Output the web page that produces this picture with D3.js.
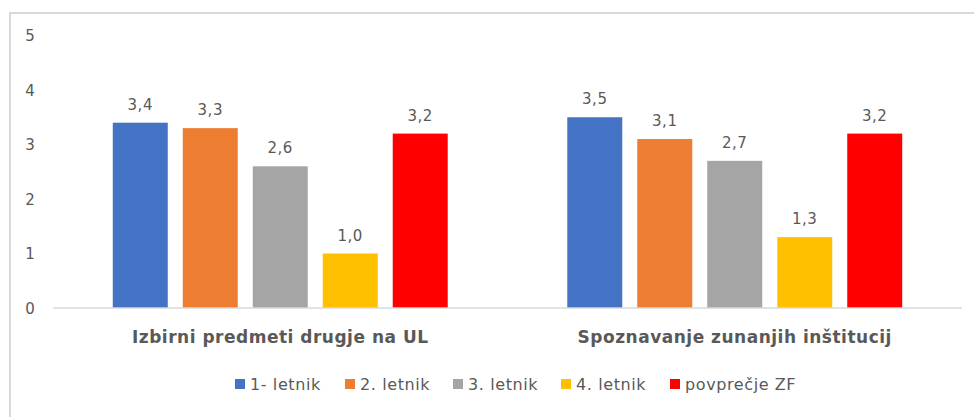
<!DOCTYPE html>
<html>
<head>
<meta charset="utf-8">
<script src="https://cdn.jsdelivr.net/npm/d3@7"></script>
<style>
  html, body { margin: 0; padding: 0; background: #fff; }
  svg { display: block; }
</style>
</head>
<body>
<svg id="chart" width="974" height="417"></svg>
<script>
const categories = ["Izbirni predmeti drugje na UL", "Spoznavanje zunanjih inštitucij"];
const seriesNames = ["1- letnik", "2. letnik", "3. letnik", "4. letnik", "povprečje ZF"];
const seriesColors = ["#4472C4", "#ED7D31", "#A5A5A5", "#FFC000", "#FF0000"];
const values1 = [3.4, 3.5];   // 1- letnik
const values2 = [3.3, 3.1];   // 2. letnik
const values3 = [2.6, 2.7];   // 3. letnik
const values4 = [1.0, 1.3];   // 4. letnik
const values5 = [3.2, 3.2];   // povprečje ZF
const yTicks = [0, 1, 2, 3, 4, 5];

const seriesValues = [values1, values2, values3, values4, values5];

const svg = d3.select("#chart");
const font = "'Century Gothic', 'DejaVu Sans', sans-serif";
const textColor = "#595959";

// outer frame (top + left visible, rest cropped)
svg.append("rect")
  .attr("x", 10).attr("y", 13)
  .attr("width", 1000).attr("height", 500)
  .attr("fill", "none").attr("stroke", "#d9d9d9").attr("stroke-width", 2);

const plotLeft = 53, plotRight = 962;
const y = d3.scaleLinear().domain([0, 5]).range([308, 35.5]);
const x0 = d3.scaleBand().domain(categories).range([plotLeft, plotRight]).padding(0);
const x1 = d3.scaleBand().domain(seriesNames).range([0, x0.bandwidth()])
  .paddingInner(15 / 70).paddingOuter(0.854);

// y axis labels
const yAxis = d3.axisLeft(y).tickValues(yTicks).tickSize(0).tickPadding(0).tickFormat(d3.format("d"));
const yg = svg.append("g").attr("transform", "translate(35,0)").call(yAxis);
yg.select(".domain").remove();
yg.selectAll("text")
  .attr("font-family", font).attr("font-size", 15).attr("fill", textColor)
  .attr("text-anchor", "middle").attr("x", -5).attr("dy", "0.35em");

// bars
const groups = svg.append("g").selectAll("g")
  .data(categories)
  .join("g")
  .attr("transform", d => `translate(${x0(d)},0)`);

groups.selectAll("rect")
  .data((c, ci) => seriesNames.map((s, si) => ({ s, si, v: seriesValues[si][ci] })))
  .join("rect")
  .attr("x", d => x1(d.s))
  .attr("y", d => y(d.v))
  .attr("width", x1.bandwidth())
  .attr("height", d => y(0) - y(d.v))
  .attr("fill", d => seriesColors[d.si]);

const fmt = v => d3.format(".1f")(v).replace(".", ",");
groups.selectAll("text.val")
  .data((c, ci) => seriesNames.map((s, si) => ({ s, si, v: seriesValues[si][ci] })))
  .join("text")
  .attr("class", "val")
  .attr("x", d => x1(d.s) + x1.bandwidth() / 2)
  .attr("y", d => y(d.v) - 13)
  .attr("text-anchor", "middle")
  .attr("font-family", font).attr("font-size", 15).attr("fill", textColor)
  .attr("letter-spacing", 0.5)
  .text(d => fmt(d.v));

// baseline
svg.append("line")
  .attr("x1", plotLeft).attr("x2", plotRight)
  .attr("y1", y(0)).attr("y2", y(0))
  .attr("stroke", "#d9d9d9").attr("stroke-width", 1.5);

// category labels
const xAxis = d3.axisBottom(x0).tickSize(0).tickPadding(0);
const xg = svg.append("g").attr("transform", `translate(0,${y(0)})`).call(xAxis);
xg.select(".domain").remove();
xg.selectAll("text")
  .attr("y", 35)
  .attr("dy", 0)
  .attr("font-family", font).attr("font-size", 17).attr("font-weight", "bold")
  .attr("letter-spacing", 0.5)
  .attr("fill", textColor);

// legend
const legendX = [235, 345, 453, 561, 670];
const legend = svg.append("g").selectAll("g")
  .data(seriesNames)
  .join("g")
  .attr("transform", (d, i) => `translate(${legendX[i]},384)`);
legend.append("rect")
  .attr("x", 0).attr("y", -5).attr("width", 10).attr("height", 10)
  .attr("fill", (d, i) => seriesColors[i]);
legend.append("text")
  .attr("x", 15).attr("y", 0).attr("dy", "0.35em")
  .attr("font-family", font).attr("font-size", 16).attr("fill", textColor)
  .attr("letter-spacing", 0.6)
  .text(d => d);
</script>
</body>
</html>
